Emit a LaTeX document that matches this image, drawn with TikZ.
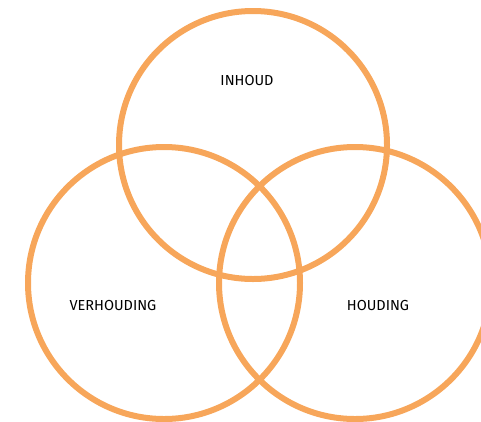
\documentclass[tikz,border=0pt]{standalone}
\usepackage{fontspec}
\setmainfont{Fira Sans}
\definecolor{ring}{RGB}{247,166,90}
\tikzset{
  ringstyle/.style={circle, draw=ring, line width=6pt, minimum size=#1, inner sep=0pt},
  lbl/.style={font=\fontsize{14.5}{16}\selectfont, text=black}
}
\begin{document}
\begin{tikzpicture}[x=1pt,y=-1pt]
\useasboundingbox (0,0) rectangle (481,421);
\begin{scope}
\clip (0,0) rectangle (481,421);
\node[ringstyle=268pt] (top) at (253,145) {};
\node[ringstyle=272pt] (left) at (164,283) {};
\node[ringstyle=272pt] (right) at (355,283) {};
\end{scope}
\node[lbl] (t1) at (247,80) {INHOUD};
\node[lbl] (t2) at (113,305) {VERHOUDING};
\node[lbl] (t3) at (378,305) {HOUDING};
\end{tikzpicture}
\end{document}
